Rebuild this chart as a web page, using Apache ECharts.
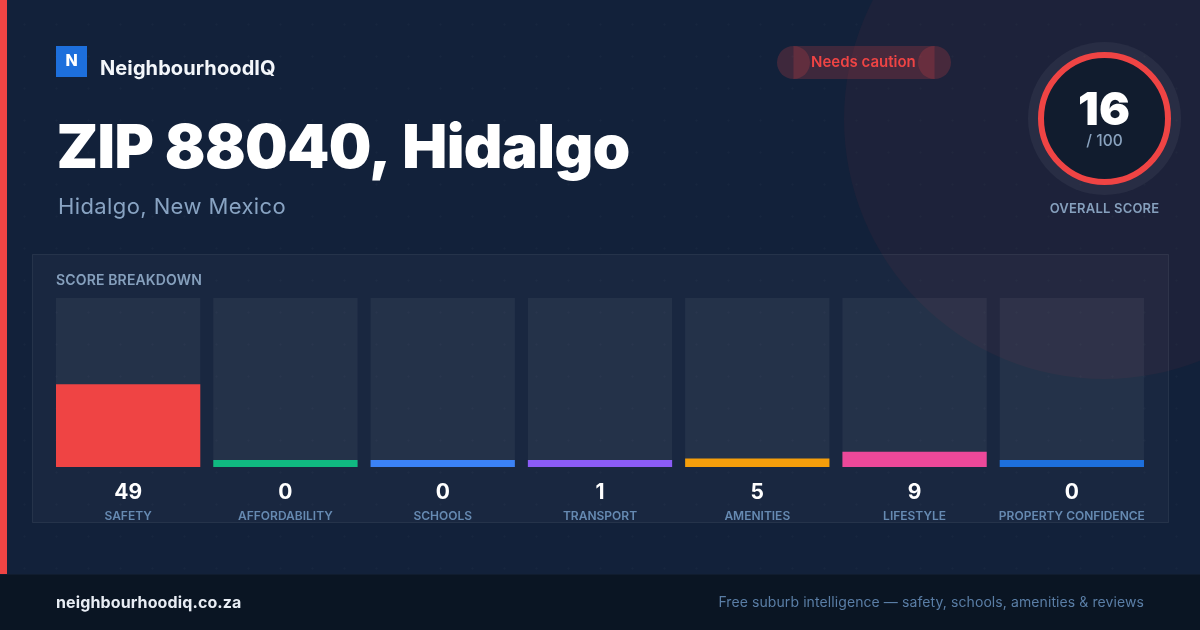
<!DOCTYPE html>
<html>
<head>
<meta charset="utf-8">
<style>html,body{margin:0;padding:0;background:#12213a}#c{width:1200px;height:630px}</style>
<script src="https://cdn.jsdelivr.net/npm/echarts@6/dist/echarts.min.js"></script>
</head>
<body>
<div id="c"></div>
<script>
const categories = ['SAFETY','AFFORDABILITY','SCHOOLS','TRANSPORT','AMENITIES','LIFESTYLE','PROPERTY CONFIDENCE'];
const scores = [49,0,0,1,5,9,0];
const barColors = ['#ef4444','#10b981','#3b82f6','#8b5cf6','#f59e0b','#ec4899','#1d6fdc'];
const overallScore = 16;
const titleText = 'ZIP 88040, Hidalgo';
const subtitleText = 'Hidalgo, New Mexico';
const brandText = 'NeighbourhoodIQ';
const verdictText = 'Needs caution';
const domainText = 'neighbourhoodiq.co.za';
const taglineText = 'Free suburb intelligence — safety, schools, amenities & reviews';

const FONT = 'Inter, "Noto Sans", sans-serif';
const spacing = {};
spacing[titleText] = '-0.55px';
spacing[subtitleText] = '0.4px';
spacing[brandText] = '0.1px';
spacing[domainText] = '0.12px';
spacing[taglineText] = '0.09px';
spacing['OVERALL SCORE'] = '0.2px';
spacing['SCORE BREAKDOWN'] = '0.15px';

const proto = CanvasRenderingContext2D.prototype;
const origFill = proto.fillText;
proto.fillText = function (t, x, y, m) {
  this.letterSpacing = spacing[t] || '0px';
  return m === undefined ? origFill.call(this, t, x, y) : origFill.call(this, t, x, y, m);
};

const dot = document.createElement('canvas');
dot.width = dot.height = 32;
const dc = dot.getContext('2d');
dc.fillStyle = '#12213a';
dc.fillRect(0, 0, 32, 32);
dc.fillStyle = 'rgba(255,255,255,0.025)';
dc.beginPath();
dc.arc(24.5, 24.5, 1.2, 0, Math.PI * 2);
dc.fill();

function txt(x, y, text, size, weight, fill, align, z) {
  return { type: 'text', x, y, z: z || 5, silent: true,
    style: { text, fill, font: `${weight} ${size}px ${FONT}`, align: align || 'left', verticalAlign: 'middle' } };
}
const RED_SOFT = 'rgba(239,68,68,0.2)';
const chart = echarts.init(document.getElementById('c'), null, { renderer: 'canvas', width: 1200, height: 630 });
chart.setOption({
  animation: false,
  backgroundColor: { image: dot, repeat: 'repeat' },
  grid: { left: 49.5, right: 49.5, top: 298, height: 169 },
  xAxis: {
    type: 'category', data: categories,
    axisLine: { show: false }, axisTick: { show: false },
    axisLabel: {
      interval: 0, margin: 13, hideOverlap: false,
      formatter: (name, i) => `{v|${scores[i]}}\n{n|${name}}`,
      rich: {
        v: { fontFamily: 'Inter', fontSize: 21, fontWeight: 700, color: '#ffffff', lineHeight: 26, align: 'center' },
        n: { fontFamily: 'Inter', fontSize: 12, fontWeight: 600, color: '#668ab2', lineHeight: 21, align: 'center' }
      }
    }
  },
  yAxis: { type: 'value', min: 0, max: 100, show: false, splitLine: { show: false } },
  series: [{
    type: 'bar', data: scores.map((v, i) => ({ value: v, itemStyle: { color: barColors[i] } })),
    barWidth: 144.28, barMinHeight: 7, showBackground: true,
    backgroundStyle: { color: 'rgba(255,255,255,0.05)' }, silent: true, z: 3
  }],
  graphic: [
    { type: 'circle', z: -3, silent: true, shape: { cx: 1104, cy: 119, r: 260 }, style: { fill: 'rgba(239,68,68,0.05)' } },
    { type: 'rect', z: -2, silent: true, shape: { x: 32.5, y: 254.5, width: 1136, height: 268 },
      style: { fill: 'rgba(255,255,255,0.03)', stroke: 'rgba(255,255,255,0.07)', lineWidth: 1 } },
    { type: 'rect', z: 6, silent: true, shape: { x: 0, y: 0, width: 7, height: 574 }, style: { fill: '#ef4444' } },
    { type: 'rect', z: 6, silent: true, shape: { x: 0, y: 574, width: 1200, height: 56 }, style: { fill: '#0a1523' } },
    { type: 'rect', z: 6, silent: true, shape: { x: 0, y: 574, width: 1200, height: 1 }, style: { fill: '#101c2e' } },
    { type: 'rect', z: 5, silent: true, shape: { x: 56, y: 46, width: 31, height: 31 }, style: { fill: '#1d6fdc' } },
    txt(71.5, 61, 'N', 16, 800, '#ffffff', 'center'),
    txt(100, 69, brandText, 20, 700, '#f3f6fa'),
    txt(56.5, 150, titleText, 60, 900, '#ffffff'),
    txt(58, 207, subtitleText, 22, 400, '#88a3c2'),
    { type: 'rect', z: 4, silent: true, shape: { x: 793.5, y: 46, width: 141, height: 33 }, style: { fill: RED_SOFT } },
    { type: 'circle', z: 4, silent: true, shape: { cx: 793.5, cy: 62.5, r: 16.5 }, style: { fill: RED_SOFT } },
    { type: 'circle', z: 4, silent: true, shape: { cx: 934.5, cy: 62.5, r: 16.5 }, style: { fill: RED_SOFT } },
    txt(811, 62, verdictText, 15, 600, '#ef4444'),
    { type: 'circle', z: 4, silent: true, shape: { cx: 1104.5, cy: 118.5, r: 76.5 }, style: { fill: 'rgba(255,255,255,0.05)' } },
    { type: 'circle', z: 4, silent: true, shape: { cx: 1104.5, cy: 118.5, r: 63.5 }, style: { fill: '#111c2e', stroke: '#ef4444', lineWidth: 6 } },
    txt(1104, 111, overallScore + '', 46, 900, '#ffffff', 'center'),
    txt(1104.5, 141.5, '/ 100', 15.5, 500, '#8aa3bf', 'center'),
    txt(1104.5, 209, 'OVERALL SCORE', 13, 600, '#86a0bd', 'center'),
    txt(56, 281, 'SCORE BREAKDOWN', 14, 600, '#86a0bd'),
    txt(56, 603, domainText, 16, 700, '#e8edf4', 'left', 7),
    txt(1144, 603, taglineText, 14, 400, '#5a7ea6', 'right', 7)
  ]
});
</script>
</body>
</html>
